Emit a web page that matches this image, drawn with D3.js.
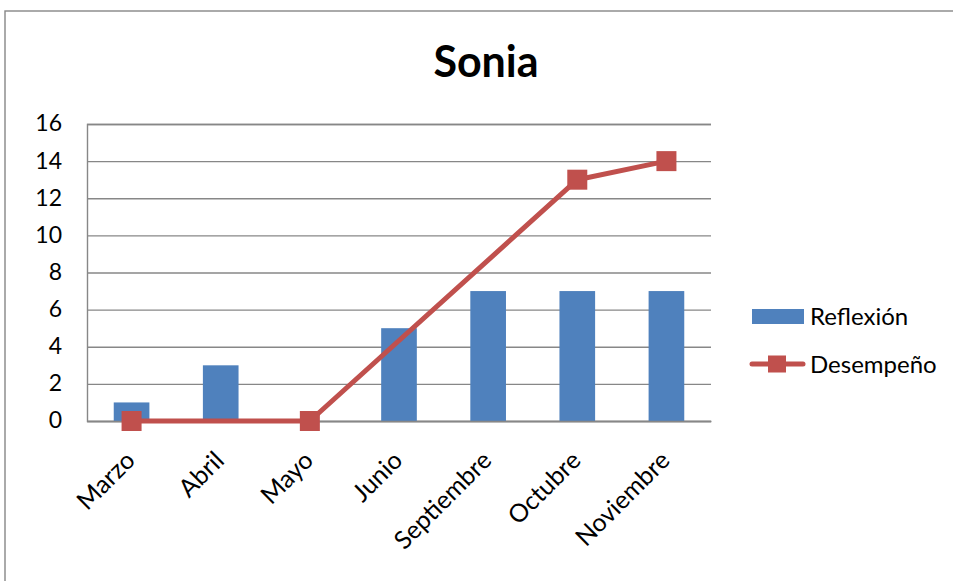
<!DOCTYPE html>
<html>
<head>
<meta charset="utf-8">
<script src="https://cdn.jsdelivr.net/npm/d3@7"></script>
<style>
  html, body { margin: 0; padding: 0; background: #fff; }
  svg { display: block; font-family: Lato, "Open Sans", sans-serif; }
</style>
</head>
<body>
<svg id="chart" width="953" height="581"></svg>
<script>
// Months shown on the category axis
const months = ["Marzo", "Abril", "Mayo", "Junio", "Septiembre", "Octubre", "Noviembre"];
// Column series
const reflexion = [1, 3, 0, 5, 7, 7, 7];
// Line series (null = no value for that month; the line joins the neighbours)
const desempeno = [0, null, 0, null, null, 13, 14];
// Value axis ticks
const yTicks = [0, 2, 4, 6, 8, 10, 12, 14, 16];
const seriesNames = ["Reflexión", "Desempeño"];
const chartTitle = "Sonia";

const colBlue = "#4F81BD";
const colRed = "#C0504D";
const gridGrey = "#878787";

const svg = d3.select("#chart");

// Outer chart frame
svg.append("rect")
  .attr("x", 5).attr("y", 11)
  .attr("width", 1000).attr("height", 1000)
  .attr("fill", "none").attr("stroke", gridGrey).attr("stroke-width", 1.4);

const plot = { left: 87, right: 711, top: 124, bottom: 421 };

const x = d3.scaleBand().domain(months).range([plot.left, plot.right]).paddingInner(0).paddingOuter(0);
const y = d3.scaleLinear().domain([0, 16]).range([plot.bottom, plot.top]);

// Title
svg.append("text")
  .attr("x", 486).attr("y", 77)
  .attr("text-anchor", "middle")
  .attr("font-size", 43).attr("font-weight", 700)
  .attr("fill", "#000")
  .text(chartTitle);

// Horizontal gridlines + value labels
const yAxis = d3.axisLeft(y).tickValues(yTicks).tickSize(-(plot.right - plot.left)).tickPadding(25).tickFormat(d3.format("d"));
const gy = svg.append("g").attr("transform", `translate(${plot.left},0)`).call(yAxis);
gy.select(".domain").attr("stroke", gridGrey).attr("stroke-width", 1.4);
gy.selectAll(".tick line").attr("stroke", gridGrey).attr("stroke-width", 1.4);
gy.selectAll(".tick text")
  .attr("font-size", 23).attr("fill", "#000")
  .attr("font-family", "Lato, sans-serif")
  .attr("dy", "0.3em");

// Columns
const barW = x.bandwidth() / 2.5;
svg.append("g").selectAll("rect")
  .data(months.map((m, i) => ({ m, v: reflexion[i] })))
  .join("rect")
  .attr("x", d => x(d.m) + (x.bandwidth() - barW) / 2)
  .attr("y", d => y(d.v))
  .attr("width", barW)
  .attr("height", d => y(0) - y(d.v))
  .attr("fill", colBlue);

// Category axis
const xAxis = d3.axisBottom(x).tickSize(0).tickFormat("");
const gx = svg.append("g").attr("transform", `translate(0,${plot.bottom})`).call(xAxis);
gx.select(".domain").attr("stroke", gridGrey).attr("stroke-width", 1.4);

svg.append("g").selectAll("text")
  .data(months)
  .join("text")
  .attr("transform", d => `translate(${x(d) + x.bandwidth() / 2 + 5},${plot.bottom + 41}) rotate(-45)`)
  .attr("text-anchor", "end")
  .attr("font-size", 25)
  .attr("fill", "#000")
  .text(d => d);

// Line series
const pts = months.map((m, i) => ({ m, v: desempeno[i] })).filter(d => d.v !== null);
const line = d3.line().x(d => x(d.m) + x.bandwidth() / 2).y(d => y(d.v));
svg.append("path")
  .datum(pts)
  .attr("d", line)
  .attr("fill", "none")
  .attr("stroke", colRed)
  .attr("stroke-width", 5)
  .attr("stroke-linejoin", "round");

const mk = 20;
svg.append("g").selectAll("rect")
  .data(pts)
  .join("rect")
  .attr("x", d => x(d.m) + x.bandwidth() / 2 - mk / 2)
  .attr("y", d => y(d.v) - mk / 2)
  .attr("width", mk).attr("height", mk)
  .attr("fill", colRed);

// Legend
const lg = svg.append("g");
lg.append("rect").attr("x", 752).attr("y", 309).attr("width", 52).attr("height", 15).attr("fill", colBlue);
lg.append("text").attr("x", 810).attr("y", 325).attr("font-size", 24).attr("fill", "#000").text(seriesNames[0]);
lg.append("line").attr("x1", 752).attr("x2", 803).attr("y1", 364).attr("y2", 364)
  .attr("stroke", colRed).attr("stroke-width", 5).attr("stroke-linecap", "round");
lg.append("rect").attr("x", 768).attr("y", 355.5).attr("width", 18).attr("height", 17).attr("fill", colRed);
lg.append("text").attr("x", 810).attr("y", 373).attr("font-size", 24).attr("fill", "#000").text(seriesNames[1]);
</script>
</body>
</html>
